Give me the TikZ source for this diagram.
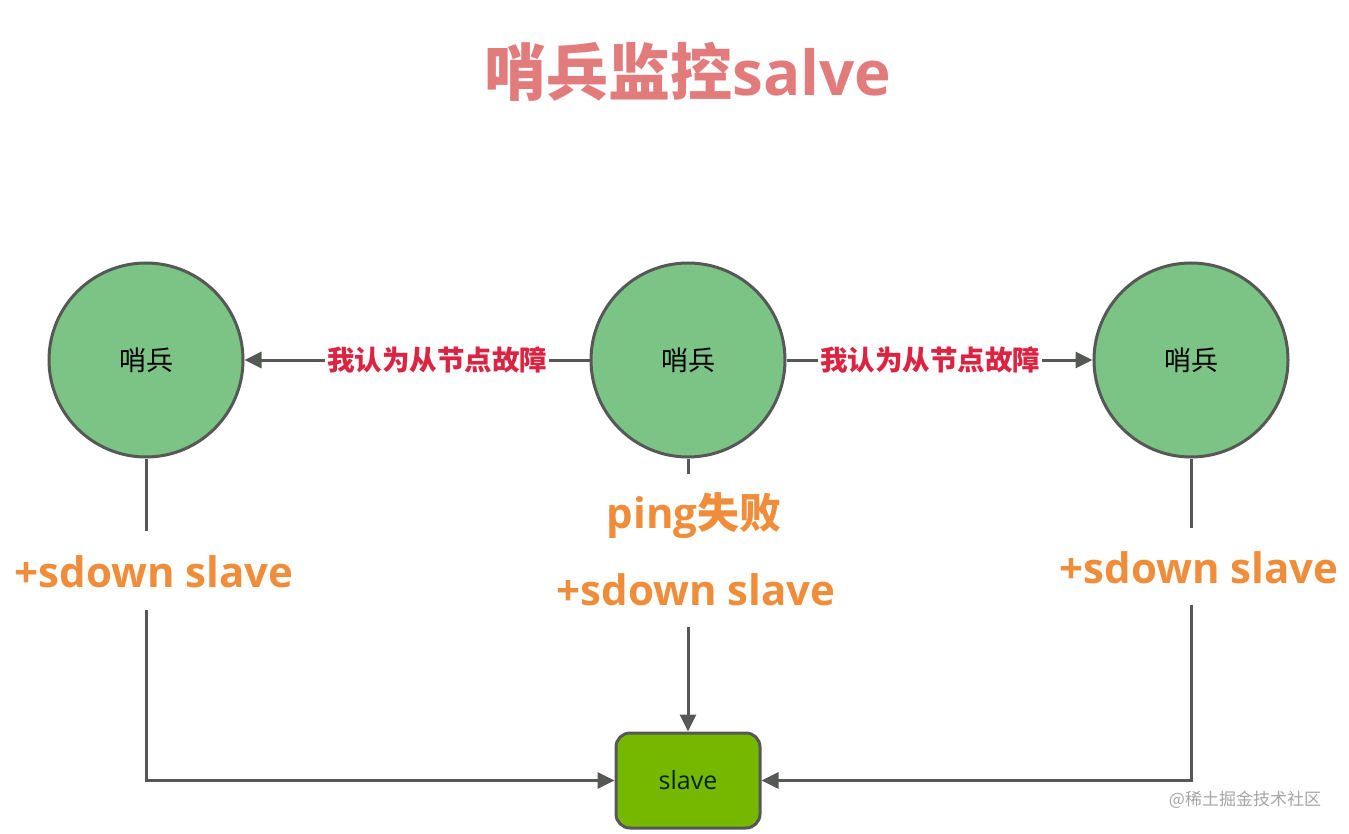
\documentclass[tikz,border=0pt]{standalone}
\usepackage{fontspec}
\setmainfont{Open Sans}
\newfontfamily\cjk{Noto Sans CJK SC}
\usetikzlibrary{arrows.meta}
\definecolor{titlec}{RGB}{226,124,124}
\definecolor{redc}{RGB}{220,36,66}
\definecolor{orangec}{RGB}{239,141,59}
\definecolor{circfill}{RGB}{123,196,133}
\definecolor{edgec}{RGB}{85,88,85}
\definecolor{boxfill}{RGB}{118,184,0}
\definecolor{wmc}{RGB}{165,165,165}
\tikzset{
  sentinel/.style={circle, draw=edgec, line width=3pt, fill=circfill, minimum size=194pt, inner sep=0pt,
    font=\fontsize{27}{30}\selectfont\cjk},
  slavebox/.style={rectangle, rounded corners=14pt, draw=edgec, line width=3pt, fill=boxfill,
    minimum width=144pt, minimum height=95pt, inner sep=0pt, text=black!85!green,
    font=\fontsize{25}{28}\selectfont},
  conn/.style={draw=edgec, line width=3pt},
  arr/.style={conn, -{Triangle[length=17pt,width=16pt]}},
  redlab/.style={fill=white, text=redc, inner sep=2pt, font=\fontsize{27.5}{30}\selectfont\cjk\bfseries},
  orlab/.style={text=orangec, inner sep=0pt, font=\fontsize{42}{48}\selectfont\bfseries},
}
\begin{document}
\begin{tikzpicture}[x=1pt,y=-1pt]
\useasboundingbox (0,0) rectangle (1349,834);
% title
\node[text=titlec, font=\fontsize{62}{68}\selectfont\bfseries] (title) at (688,72) {{\cjk\bfseries 哨兵监控}salve};
% sentinels
\node[sentinel] (L) at (146,360) {哨兵};
\node[sentinel] (M) at (688,360) {哨兵};
\node[sentinel] (R) at (1191,360) {哨兵};
% slave
\node[slavebox] (S) at (688,780.5) {slave};
% horizontal arrows
\draw[arr] (M.west) -- (L.east);
\draw[arr] (M.east) -- (R.west);
\node[redlab] (lab1) at (437,360) {我认为从节点故障};
\node[redlab] (lab2) at (930,360) {我认为从节点故障};
% left branch
\coordinate (Lg1) at (146,531);
\coordinate (Lg2) at (146,610);
\draw[conn] (L.south) -- (Lg1);
\draw[arr] (Lg2) |- (S.west);
\node[orlab] (Llab) at (154,572) {+sdown slave};
% middle branch
\coordinate (Mg1) at (688,474);
\coordinate (Mg2) at (688,627);
\draw[conn] (M.south) -- (Mg1);
\draw[arr] (Mg2) -- (S.north);
\node[text=orangec, inner sep=0pt, font=\fontsize{42}{48}\selectfont\bfseries] (ping) at (694,516) {ping{\cjk\bfseries 失败}};
\node[orlab] (Mlab) at (696,590) {+sdown slave};
% right branch
\coordinate (Rg1) at (1191,528);
\coordinate (Rg2) at (1191,605);
\draw[conn] (R.south) -- (Rg1);
\draw[arr] (Rg2) |- (S.east);
\node[orlab] (Rlab) at (1199,568) {+sdown slave};
% watermark
\node[text=wmc, font=\fontsize{17}{20}\selectfont\cjk] (wm) at (1245,800) {@稀土掘金技术社区};
\end{tikzpicture}
\end{document}
